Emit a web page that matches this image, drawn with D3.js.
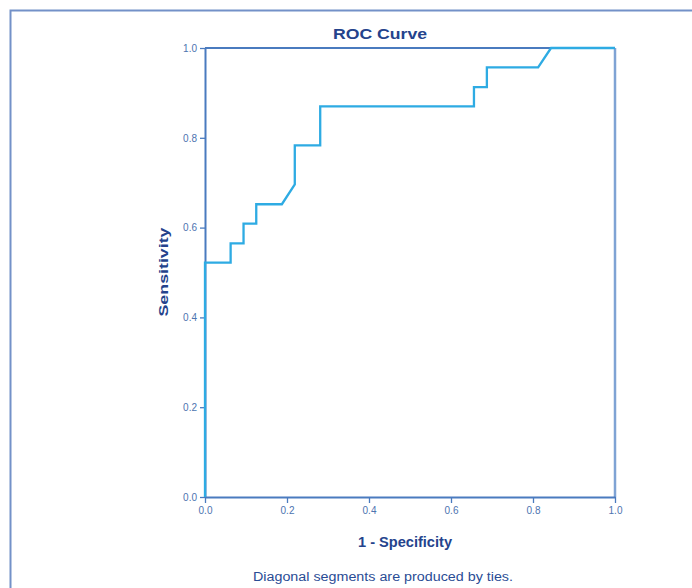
<!DOCTYPE html>
<html>
<head>
<meta charset="utf-8">
<script src="https://cdn.jsdelivr.net/npm/d3@7"></script>
<style>
  body { margin: 0; background: #fff; }
  text { font-family: "Liberation Sans", Arial, sans-serif; }
</style>
</head>
<body>
<svg id="chart" width="692" height="588"></svg>
<script>
// ROC points (1 - specificity, sensitivity)
const fpr = [0, 0, 0.0625, 0.0625, 0.094, 0.094, 0.125, 0.125, 0.1875, 0.219, 0.219, 0.281, 0.281,
             0.656, 0.656, 0.6875, 0.6875, 0.8125, 0.844, 1];
const tpr = [0, 0.522, 0.522, 0.565, 0.565, 0.609, 0.609, 0.652, 0.652, 0.696, 0.783, 0.783, 0.870,
             0.870, 0.913, 0.913, 0.957, 0.957, 1, 1];
const tickValues = [0, 0.2, 0.4, 0.6, 0.8, 1.0];
const title = "ROC Curve";
const xTitle = "1 - Specificity";
const yTitle = "Sensitivity";
const note = "Diagonal segments are produced by ties.";

const svg = d3.select("#chart");
const axisColor = "#4a7bbf";
const textColor = "#24438c";

// outer frame, runs off the right and bottom edges
svg.append("rect")
    .attr("x", 10.5).attr("y", 10.5)
    .attr("width", 720).attr("height", 620)
    .attr("fill", "none")
    .attr("stroke", "#7391c8")
    .attr("stroke-width", 2);

const x = d3.scaleLinear().domain([0, 1]).range([205, 615]);
const y = d3.scaleLinear().domain([0, 1]).range([497, 48]);

// box: top and right edges
svg.append("line")
    .attr("x1", x(0)).attr("x2", x(1)).attr("y1", y(1)).attr("y2", y(1))
    .attr("stroke", axisColor).attr("stroke-width", 2);
svg.append("line")
    .attr("x1", x(1)).attr("x2", x(1)).attr("y1", y(1)).attr("y2", y(0))
    .attr("stroke", "#7fa3d4").attr("stroke-width", 2.5);

const styleAxis = g => {
    g.select(".domain").attr("stroke", axisColor).attr("stroke-width", 2);
    g.selectAll(".tick line").attr("stroke", axisColor).attr("stroke-width", 1.3);
    g.selectAll(".tick text")
        .attr("fill", "#4d74b0")
        .style("font-size", "10px");
};

svg.append("g")
    .attr("transform", `translate(0,${y(0)})`)
    .call(d3.axisBottom(x).tickValues(tickValues).tickFormat(d3.format(".1f"))
        .tickSize(6).tickSizeOuter(0).tickPadding(4))
    .call(styleAxis);

svg.append("g")
    .attr("transform", `translate(${x(0)},0)`)
    .call(d3.axisLeft(y).tickValues(tickValues).tickFormat(d3.format(".1f"))
        .tickSize(5).tickSizeOuter(0).tickPadding(3))
    .call(styleAxis);

// curve
svg.append("path")
    .datum(d3.zip(fpr, tpr))
    .attr("fill", "none")
    .attr("stroke", "#2eabe3")
    .attr("stroke-width", 2.3)
    .attr("stroke-linejoin", "miter")
    .attr("d", d3.line().x(d => x(d[0])).y(d => y(d[1])));

// texts
svg.append("text")
    .attr("x", 380).attr("y", 39)
    .attr("text-anchor", "middle")
    .attr("font-weight", "bold")
    .attr("font-size", 15)
    .attr("textLength", 94).attr("lengthAdjust", "spacingAndGlyphs")
    .attr("fill", textColor)
    .text(title);

svg.append("text")
    .attr("x", 405).attr("y", 547)
    .attr("text-anchor", "middle")
    .attr("font-weight", "bold")
    .attr("font-size", 14)
    .attr("textLength", 94).attr("lengthAdjust", "spacingAndGlyphs")
    .attr("fill", textColor)
    .text(xTitle);

svg.append("text")
    .attr("transform", "translate(168,272) rotate(-90)")
    .attr("text-anchor", "middle")
    .attr("font-weight", "bold")
    .attr("font-size", 13)
    .attr("textLength", 89).attr("lengthAdjust", "spacingAndGlyphs")
    .attr("fill", textColor)
    .text(yTitle);

svg.append("text")
    .attr("x", 383).attr("y", 581)
    .attr("text-anchor", "middle")
    .attr("font-size", 12)
    .attr("textLength", 260).attr("lengthAdjust", "spacingAndGlyphs")
    .attr("fill", "#2a4c95")
    .text(note);
</script>
</body>
</html>
